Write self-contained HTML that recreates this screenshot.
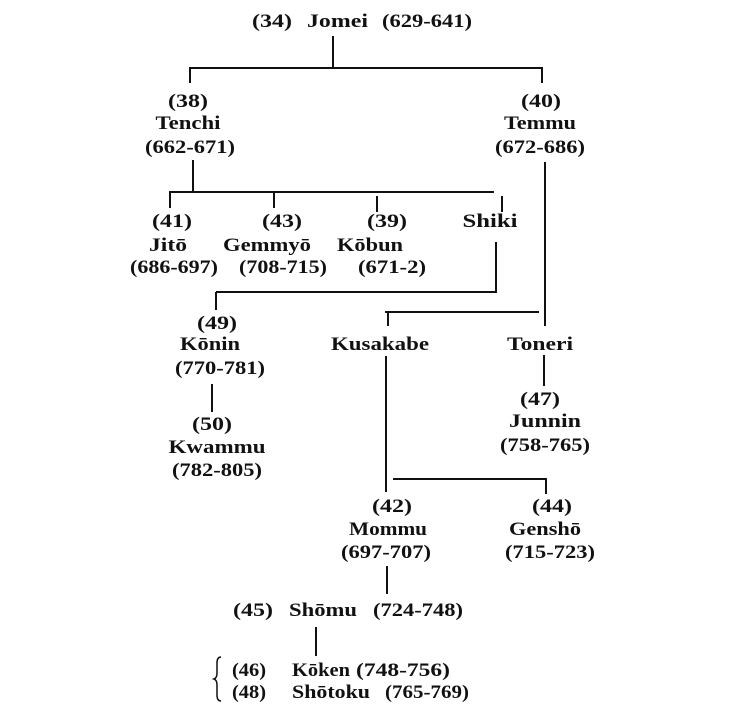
<!DOCTYPE html>
<html><head><meta charset="utf-8"><style>
html,body{margin:0;padding:0;background:#fff;}
svg{display:block;}
text{font-family:"Liberation Serif",serif;font-weight:bold;font-size:19px;fill:#111;}
</style></head><body>
<svg width="731" height="721" viewBox="0 0 731 721" xmlns="http://www.w3.org/2000/svg">
<g stroke="#111" stroke-width="2" fill="none">
<line x1="333" y1="36" x2="333" y2="68"/>
<line x1="189" y1="68" x2="543" y2="68"/>
<line x1="190" y1="68" x2="190" y2="83"/>
<line x1="542" y1="68" x2="542" y2="83"/>
<line x1="193" y1="160" x2="193" y2="192"/>
<line x1="169" y1="192" x2="494" y2="192"/>
<line x1="170" y1="192" x2="170" y2="208"/>
<line x1="274" y1="192" x2="274" y2="208"/>
<line x1="377" y1="196" x2="377" y2="212"/>
<line x1="502" y1="196" x2="502" y2="212"/>
<line x1="496" y1="242" x2="496" y2="292"/>
<line x1="216" y1="292" x2="497" y2="292"/>
<line x1="216" y1="292" x2="216" y2="310"/>
<line x1="212" y1="384" x2="212" y2="412"/>
<line x1="545" y1="162" x2="545" y2="326"/>
<line x1="385" y1="312" x2="539" y2="312"/>
<line x1="388" y1="312" x2="388" y2="326"/>
<line x1="544" y1="355" x2="544" y2="386"/>
<line x1="386" y1="356" x2="386" y2="492"/>
<line x1="393" y1="479" x2="547" y2="479"/>
<line x1="546" y1="479" x2="546" y2="494"/>
<line x1="387" y1="566" x2="387" y2="594"/>
<line x1="316" y1="627" x2="316" y2="656"/>
<path d="M221 657 q-4 0 -4 6 v10 q0 5 -3 6 q3 1 3 6 v10 q0 6 4 6" stroke-width="1.5"/>
</g>
<g>
<text x="252" y="27" textLength="40" lengthAdjust="spacingAndGlyphs">(34)</text>
<text x="307" y="27" textLength="61" lengthAdjust="spacingAndGlyphs">Jomei</text>
<text x="382" y="27" textLength="90" lengthAdjust="spacingAndGlyphs">(629-641)</text>

<text x="188" y="107" text-anchor="middle" textLength="40" lengthAdjust="spacingAndGlyphs">(38)</text>
<text x="188" y="129" text-anchor="middle" textLength="65" lengthAdjust="spacingAndGlyphs">Tenchi</text>
<text x="190" y="153" text-anchor="middle" textLength="90" lengthAdjust="spacingAndGlyphs">(662-671)</text>

<text x="541" y="107" text-anchor="middle" textLength="40" lengthAdjust="spacingAndGlyphs">(40)</text>
<text x="540" y="129" text-anchor="middle" textLength="72" lengthAdjust="spacingAndGlyphs">Temmu</text>
<text x="540" y="153" text-anchor="middle" textLength="90" lengthAdjust="spacingAndGlyphs">(672-686)</text>

<text x="172" y="227" text-anchor="middle" textLength="40" lengthAdjust="spacingAndGlyphs">(41)</text>
<text x="168" y="251" text-anchor="middle" textLength="38" lengthAdjust="spacingAndGlyphs">Jitō</text>
<text x="174" y="273" text-anchor="middle" textLength="88" lengthAdjust="spacingAndGlyphs">(686-697)</text>

<text x="282" y="227" text-anchor="middle" textLength="40" lengthAdjust="spacingAndGlyphs">(43)</text>
<text x="267" y="251" text-anchor="middle" textLength="88" lengthAdjust="spacingAndGlyphs">Gemmyō</text>
<text x="283" y="273" text-anchor="middle" textLength="88" lengthAdjust="spacingAndGlyphs">(708-715)</text>

<text x="387" y="227" text-anchor="middle" textLength="40" lengthAdjust="spacingAndGlyphs">(39)</text>
<text x="370" y="251" text-anchor="middle" textLength="66" lengthAdjust="spacingAndGlyphs">Kōbun</text>
<text x="392" y="273" text-anchor="middle" textLength="68" lengthAdjust="spacingAndGlyphs">(671-2)</text>

<text x="490" y="227" text-anchor="middle" textLength="55" lengthAdjust="spacingAndGlyphs">Shiki</text>

<text x="217" y="329" text-anchor="middle" textLength="40" lengthAdjust="spacingAndGlyphs">(49)</text>
<text x="210" y="350" text-anchor="middle" textLength="60" lengthAdjust="spacingAndGlyphs">Kōnin</text>
<text x="220" y="374" text-anchor="middle" textLength="90" lengthAdjust="spacingAndGlyphs">(770-781)</text>

<text x="212" y="430" text-anchor="middle" textLength="40" lengthAdjust="spacingAndGlyphs">(50)</text>
<text x="217" y="453" text-anchor="middle" textLength="97" lengthAdjust="spacingAndGlyphs">Kwammu</text>
<text x="217" y="476" text-anchor="middle" textLength="90" lengthAdjust="spacingAndGlyphs">(782-805)</text>

<text x="380" y="350" text-anchor="middle" textLength="98" lengthAdjust="spacingAndGlyphs">Kusakabe</text>
<text x="540" y="350" text-anchor="middle" textLength="66" lengthAdjust="spacingAndGlyphs">Toneri</text>

<text x="540" y="405" text-anchor="middle" textLength="40" lengthAdjust="spacingAndGlyphs">(47)</text>
<text x="545" y="427" text-anchor="middle" textLength="72" lengthAdjust="spacingAndGlyphs">Junnin</text>
<text x="545" y="451" text-anchor="middle" textLength="90" lengthAdjust="spacingAndGlyphs">(758-765)</text>

<text x="392" y="512" text-anchor="middle" textLength="40" lengthAdjust="spacingAndGlyphs">(42)</text>
<text x="388" y="535" text-anchor="middle" textLength="78" lengthAdjust="spacingAndGlyphs">Mommu</text>
<text x="386" y="558" text-anchor="middle" textLength="90" lengthAdjust="spacingAndGlyphs">(697-707)</text>

<text x="552" y="512" text-anchor="middle" textLength="40" lengthAdjust="spacingAndGlyphs">(44)</text>
<text x="545" y="535" text-anchor="middle" textLength="72" lengthAdjust="spacingAndGlyphs">Genshō</text>
<text x="550" y="558" text-anchor="middle" textLength="90" lengthAdjust="spacingAndGlyphs">(715-723)</text>

<text x="233" y="616" textLength="40" lengthAdjust="spacingAndGlyphs">(45)</text>
<text x="289" y="616" textLength="68" lengthAdjust="spacingAndGlyphs">Shōmu</text>
<text x="373" y="616" textLength="90" lengthAdjust="spacingAndGlyphs">(724-748)</text>

<text x="232" y="676" textLength="34" lengthAdjust="spacingAndGlyphs">(46)</text>
<text x="292" y="676" textLength="58" lengthAdjust="spacingAndGlyphs">Kōken</text>
<text x="356" y="676" textLength="94" lengthAdjust="spacingAndGlyphs">(748-756)</text>

<text x="232" y="698" textLength="34" lengthAdjust="spacingAndGlyphs">(48)</text>
<text x="292" y="698" textLength="78" lengthAdjust="spacingAndGlyphs">Shōtoku</text>
<text x="385" y="698" textLength="84" lengthAdjust="spacingAndGlyphs">(765-769)</text>
</g>
</svg>
</body></html>
